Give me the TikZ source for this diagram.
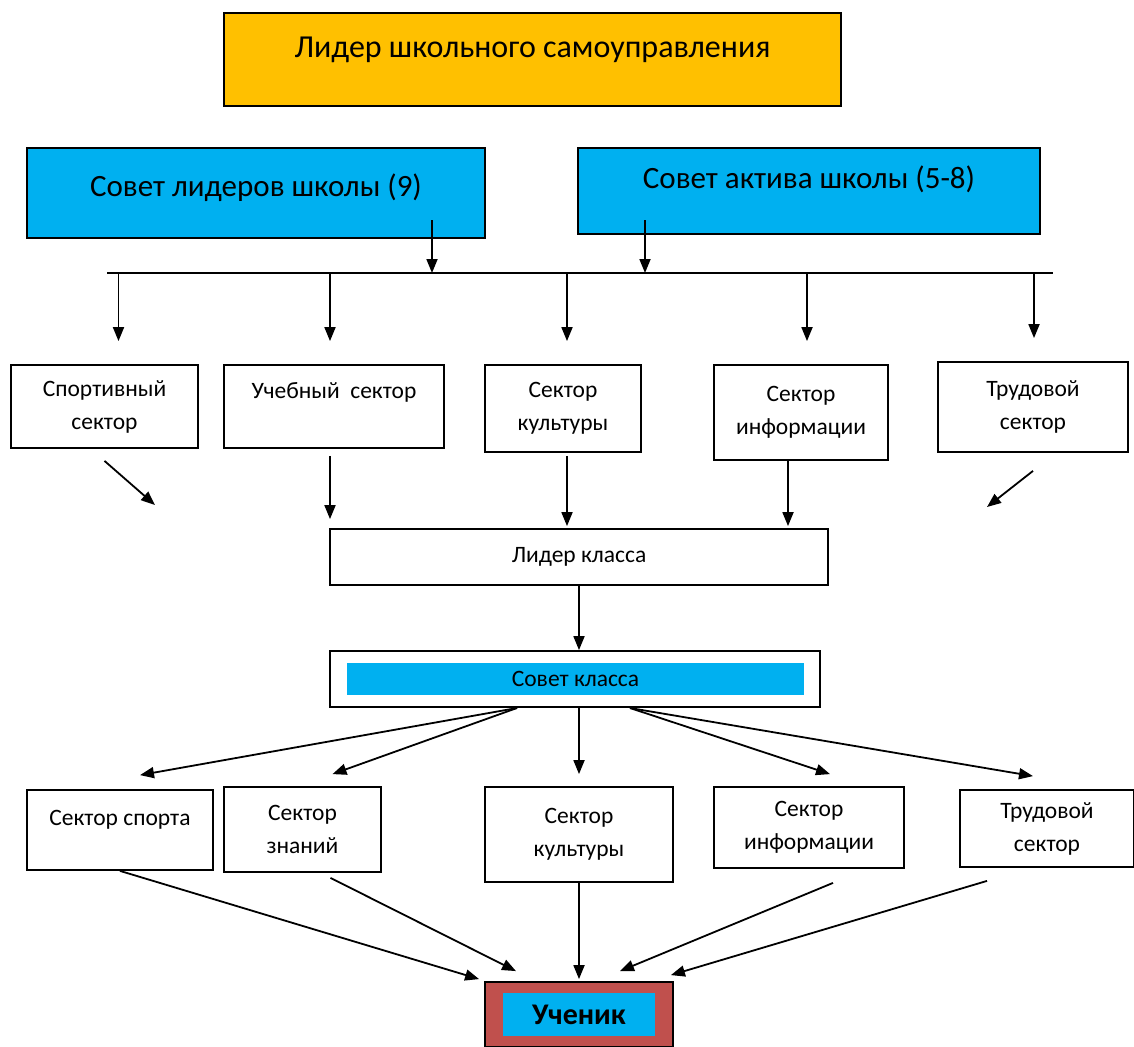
\documentclass[tikz,border=0pt]{standalone}
\usepackage{fontspec}
\setmainfont{Carlito}
\usetikzlibrary{arrows.meta}
\definecolor{gold}{HTML}{FFC000}
\definecolor{sky}{HTML}{00B0F0}
\definecolor{brick}{HTML}{C0504D}

\begin{document}
\begin{tikzpicture}[x=1pt, y=-1pt,
  box/.style={draw, line width=1.8pt, align=center, inner sep=0pt},
  big/.style={font=\fontsize{32}{39}\selectfont},
  small/.style={font=\fontsize{23.5}{33}\selectfont},
  arr/.style={line width=1.8pt, -{Triangle[length=14pt,width=11pt]}}]
  \useasboundingbox (0,0) rectangle (1134,1046);

  % top level
  \node[box, big, fill=gold, minimum width=617pt, minimum height=93pt] (lead) at (532.5,59.5) {Лидер школьного самоуправления\\[-14pt]\mbox{}};
  \node[box, big, font=\fontsize{31}{38}\selectfont, fill=sky, minimum width=458pt, minimum height=90pt] (lid) at (256,193) {Совет лидеров школы (9)\\[-22pt]\mbox{}};
  \node[box, big, font=\fontsize{31}{38}\selectfont, fill=sky, minimum width=462pt, minimum height=86pt] (akt) at (809,191) {Совет актива школы (5-8)\\[-11pt]\mbox{}};

  % school sectors
  \node[box, small, minimum width=187pt, minimum height=83pt] (sport) at (104.5,406.5) {Спортивный\\сектор};
  \node[box, small, minimum width=220pt, minimum height=83pt] (ucheb) at (334,406.5) {Учебный\ \ сектор\\\mbox{}};
  \node[box, small, minimum width=156pt, minimum height=87pt] (kult) at (563,408.5) {Сектор\\культуры};
  \node[box, small, minimum width=174pt, minimum height=95pt] (info) at (801,412.5) {Сектор\\информации};
  \node[box, small, minimum width=190pt, minimum height=90pt] (trud) at (1033,407) {Трудовой\\сектор};

  % class level
  \node[box, small, minimum width=498pt, minimum height=56pt] (lider) at (579,557) {Лидер класса};
  \node[box, minimum width=490pt, minimum height=56pt] (sovkl) at (575,679) {};
  \node[small, fill=sky, minimum width=457pt, minimum height=32pt, inner sep=0pt] (sovin) at (575.5,679) {Совет класса};

  % class sectors
  \node[box, small, minimum width=186pt, minimum height=80pt] (spor2) at (120,830) {Сектор спорта\\[-9pt]\mbox{}};
  \node[box, small, minimum width=157pt, minimum height=85pt] (znan) at (302.5,829.5) {Сектор\\знаний};
  \node[box, small, minimum width=188pt, minimum height=95pt] (kult2) at (579,834.5) {Сектор\\культуры};
  \node[box, small, minimum width=190pt, minimum height=81pt] (info2) at (809,827.5) {Сектор\\информации};
  \node[box, small, minimum width=174pt, minimum height=77pt] (trud2) at (1047,828.5) {Трудовой\\сектор};

  % pupil
  \node[box, fill=brick, minimum width=188pt, minimum height=65pt] (ucen) at (579,1014.5) {};
  \node[fill=sky, minimum width=152pt, minimum height=43pt, inner sep=0pt, font=\fontsize{30}{36}\selectfont\bfseries] (ucin) at (579,1014.5) {Ученик};

  % bus line
  \coordinate (busL) at (107,273);
  \coordinate (busR) at (1053,273);
  \coordinate (lidout) at (432,220);
  \coordinate (aktout) at (645,220);
  \draw[line width=1.8pt] (busL) -- (busR);
  \draw[arr] (lidout) -- (lidout |- busL);
  \draw[arr] (aktout) -- (aktout |- busL);
  \foreach \n/\dx in {sport/14,ucheb/-4,kult/4,info/6,trud/1}
    \draw[arr] ([xshift=\dx pt]\n.north |- busL) -- ([xshift=\dx pt,yshift=23pt]\n.north);

  % sectors to class leader
  \coordinate (sportEnd) at (155,505);
  \coordinate (trudEnd) at (987,507);
  \draw[arr] ([yshift=-12pt]sport.south) -- (sportEnd);
  \draw[arr] ([xshift=-4pt,yshift=-7pt]ucheb.south) -- ([xshift=-4pt,yshift=9pt]ucheb.south |- lider.north);
  \draw[arr] ([xshift=4pt,yshift=-3pt]kult.south) -- ([xshift=4pt,yshift=2pt]kult.south |- lider.north);
  \draw[arr] ([xshift=-13pt]info.south) -- ([xshift=-13pt,yshift=2pt]info.south |- lider.north);
  \draw[arr] ([yshift=-18pt]trud.south) -- (trudEnd);
  \draw[arr] (lider.south) -- (lider.south |- sovkl.north);

  % class council to sectors
  \coordinate (sovL) at (517,708);
  \coordinate (sovR) at (630,708);
  \draw[arr] (sovL) -- ([shift={(20,-14)}]spor2.north);
  \draw[arr] (sovL) -- ([shift={(30,-12)}]znan.north);
  \draw[arr] (sovkl.south -| kult2.north) -- ([yshift=12pt]kult2.north);
  \draw[arr] (sovR) -- ([shift={(21,-12)}]info2.north);
  \draw[arr] (sovR) -- ([shift={(-14,-13)}]trud2.north);

  % sectors to pupil
  \draw[arr] (spor2.south) -- ([shift={(-5,-2)}]ucen.north west);
  \draw[arr] ([shift={(28,5)}]znan.south) -- ([shift={(-63,-10)}]ucen.north);
  \draw[arr] (kult2.south) -- ([yshift=2pt]ucen.north);
  \draw[arr] ([shift={(24,14)}]info2.south) -- ([shift={(41,-10)}]ucen.north);
  \draw[arr] ([shift={(-60,13)}]trud2.south) -- ([shift={(-3,-6)}]ucen.north east);
\end{tikzpicture}
\end{document}
